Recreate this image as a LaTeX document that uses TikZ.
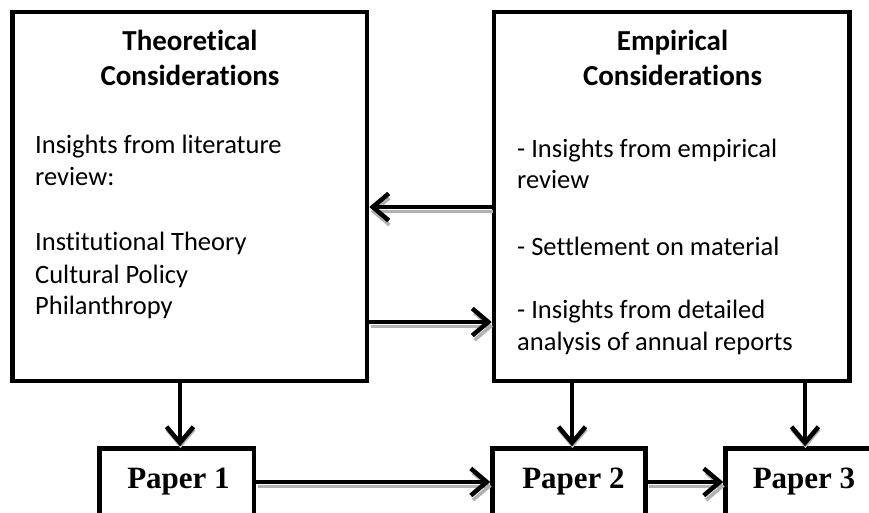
\documentclass[tikz,border=0pt]{standalone}
\usepackage{fontspec}
\setmainfont{Carlito}[Ligatures=CommonOff]
\newfontfamily\paperfont{Liberation Serif}
\usetikzlibrary{arrows.meta,calc}
\tikzset{
  box/.style={draw=black, line width=4.5pt, fill=white, inner sep=0pt},
  title/.style={inner sep=0pt, anchor=base, font=\fontsize{29}{35}\selectfont\bfseries},
  body/.style={inner sep=0pt, anchor=base west, font=\fontsize{26.5}{32}\selectfont},
  ptext/.style={inner sep=0pt, anchor=base, font=\paperfont\fontsize{31}{36}\selectfont\bfseries},
  arr/.style={line width=4.5pt, -{Straight Barb[length=16pt,width=27pt]}},
  shad/.style={line width=3.5pt, draw=black!30, -{Straight Barb[length=16pt,width=27pt]}}
}
\begin{document}
\begin{tikzpicture}[x=1pt,y=-1pt]
\useasboundingbox (0,0) rectangle (869,512);
% boxes
\node[box, minimum width=354.5pt, minimum height=369pt] (tc) at (189.75,196.5) {};
\node[box, minimum width=355.5pt, minimum height=369pt] (ec) at (671.75,196.5) {};
\node[box, minimum width=154.5pt, minimum height=74pt] (p1) at (176.75,485.5) {};
\node[box, minimum width=153pt, minimum height=74pt] (p2) at (569,485.5) {};
\node[box, minimum width=153pt, minimum height=74pt] (p3) at (802,485.5) {};
% titles
\node[title] (tt1) at (190,50) {Theoretical};
\node[title] (tt2) at (190,85) {Considerations};
\node[title] (et1) at (672.5,50) {Empirical};
\node[title] (et2) at (672.5,85) {Considerations};
% left body
\node[body] (l1) at (35,153) {Insights from literature};
\node[body] (l2) at (35,185) {review:};
\node[body] (l3) at (35,250) {Institutional Theory};
\node[body] (l4) at (35,283) {Cultural Policy};
\node[body] (l5) at (35,314) {Philanthropy};
% right body
\node[body] (r1) at (517,157) {- Insights from empirical};
\node[body] (r2) at (517,188) {review};
\node[body] (r3) at (517,255) {- Settlement on material};
\node[body] (r4) at (517,318) {- Insights from detailed};
\node[body] (r5) at (517,350) {analysis of annual reports};
% paper labels
\node[ptext] (pt1) at (178.5,488) {Paper 1};
\node[ptext] (pt2) at (573.5,488) {Paper 2};
\node[ptext] (pt3) at (804,488) {Paper 3};
% coordinates for connectors
\coordinate (a1s) at ($(ec.west |- 0,207)$);
\coordinate (a1e) at ($(tc.east |- 0,207)$);
\coordinate (a2s) at ($(tc.east |- 0,322)$);
\coordinate (a2e) at ($(ec.west |- 0,322)$);
\coordinate (a3s) at ($(p1.east |- 0,482)$);
\coordinate (a3e) at ($(p2.west |- 0,482)$);
\coordinate (a4s) at ($(p2.east |- 0,482)$);
\coordinate (a4e) at ($(p3.west |- 0,482)$);
\coordinate (v1s) at (tc.south -| 180,0);
\coordinate (v1e) at (p1.north -| 180,0);
\coordinate (v2s) at (ec.south -| 572,0);
\coordinate (v2e) at (p2.north -| 572,0);
\coordinate (v3s) at (ec.south -| 805,0);
\coordinate (v3e) at (p3.north -| 805,0);
% shadows
\foreach \s/\e in {a1s/a1e,a2s/a2e,a3s/a3e,a4s/a4e}{
  \draw[shad] ($(\s)+(1.5,4.5)$) -- ($(\e)+(1.5,4.5)$);
}
\foreach \s/\e in {v1s/v1e,v2s/v2e,v3s/v3e}{
  \draw[shad] ($(\s)+(0.5,2)$) -- ($(\e)+(0.5,2)$);
}
% arrows
\foreach \s/\e in {a1s/a1e,a2s/a2e,a3s/a3e,a4s/a4e,v1s/v1e,v2s/v2e,v3s/v3e}{
  \draw[arr] (\s) -- (\e);
}
\end{tikzpicture}
\end{document}
